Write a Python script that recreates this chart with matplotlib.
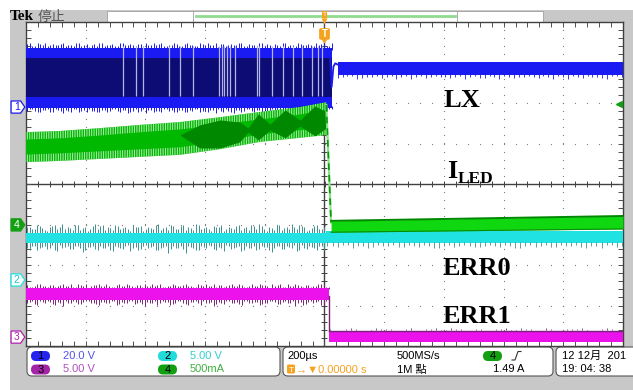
import numpy as np
import matplotlib.pyplot as plt
from matplotlib.patches import FancyBboxPatch, Polygon, Rectangle

plt.rcParams['font.family'] = ['Liberation Sans', 'Noto Sans CJK TC', 'DejaVu Sans']
plt.rcParams['hatch.linewidth'] = 0.7
plt.rcParams['hatch.color'] = '#b2ecb2'

# everything on the screen is in graticule divisions: x -5..5, y -4..4

# channel 1 - LX
lx_pre = [1.88, 2.15, 3.11, 3.36]      # outer low, navy low, navy high, outer high
lx_post = [2.69, 3.01]
lx_stop = 0.12
lx_gaps = [-3.375, -3.157, -3.04, -2.605, -2.42, -2.203, -1.767, -1.717, -1.683,
           -1.633, -1.583, -1.499, -1.131, -1.097, -0.879, -0.695, -0.528,
           -0.377, -0.209, -0.109, -0.04]
lx_spk_hi = [3.45, 3.41, 3.48, 3.43, 3.40, 3.46, 3.42, 3.49, 3.44, 3.40,
             3.47, 3.42, 3.39, 3.45, 3.48, 3.41, 3.44, 3.40, 3.47, 3.43,
             3.46, 3.41, 3.45, 3.49, 3.42, 3.44, 3.47, 3.40, 3.43, 3.46,
             3.41, 3.48, 3.44, 3.40, 3.45, 3.47, 3.42, 3.39, 3.46, 3.44,
             3.43, 3.47, 3.40, 3.45, 3.42, 3.48, 3.41, 3.44, 3.46, 3.40,
             3.49, 3.43, 3.41, 3.46, 3.44, 3.42, 3.47, 3.45, 3.40, 3.48]
lx_spk_lo = [1.80, 1.84, 1.77, 1.82, 1.85, 1.79, 1.83, 1.76, 1.81, 1.84,
             1.78, 1.82, 1.86, 1.80, 1.77, 1.83, 1.81, 1.85, 1.78, 1.82,
             1.79, 1.84, 1.80, 1.76, 1.83, 1.81, 1.78, 1.85, 1.82, 1.79,
             1.83, 1.77, 1.81, 1.84, 1.80, 1.78, 1.82, 1.85, 1.79, 1.81,
             1.76, 1.83, 1.80, 1.84, 1.78, 1.82, 1.79, 1.81, 1.77, 1.80,
             1.84, 1.78, 1.82, 1.80, 1.85, 1.79, 1.83, 1.77, 1.81, 1.84]
lx_post_spk = [2.62, 2.66, 2.60, 2.65, 2.67, 2.63, 2.59, 2.66, 2.64, 2.61,
               2.67, 2.63, 2.65, 2.60, 2.66, 2.62, 2.64, 2.67, 2.61, 2.65,
               2.63, 2.66, 2.60, 2.64, 2.67, 2.62, 2.65, 2.61, 2.66, 2.63]
lx_dip_x = [0.09, 0.12, 0.15, 0.18, 0.22]
lx_dip_y = [3.30, 2.40, 2.90, 2.98, 2.95]

# channel 4 - I_LED
iled_x = [-5.0, -4.43, -3.76, -3.09, -2.42, -1.75, -1.08, -0.41, 0.03]
iled_hi = [1.28, 1.31, 1.38, 1.46, 1.53, 1.65, 1.78, 1.90, 2.02]
iled_lo = [0.54, 0.57, 0.62, 0.67, 0.72, 0.86, 1.04, 1.14, 1.21]
beat_x = [-2.42, -2.09, -1.75, -1.42, -1.28, -1.11, -0.91, -0.66, -0.41, -0.16, 0.03]
beat_hi = [1.21, 1.46, 1.58, 1.53, 1.38, 1.73, 1.48, 1.83, 1.58, 1.93, 1.78]
beat_lo = [1.21, 0.89, 0.89, 1.04, 1.28, 1.09, 1.33, 1.14, 1.43, 1.19, 1.38]
iled_drop_x = [0.03, 0.11]
iled_drop_y = [1.95, -0.95]
iled_post_x = [0.11, 5.0]
iled_post_hi = [-0.91, -0.79]
iled_post_lo = [-1.19, -1.11]

# channel 2 - ERR0
err0_pre = [-1.46, -1.21]
err0_post = [-1.46, -1.16]
err0_spk_hi = [-1.05, -1.12, -1.01, -1.09, -1.15, -1.03, -1.10, -0.99, -1.07, -1.13,
               -1.02, -1.08, -1.16, -1.04, -1.11, -1.00, -1.06, -1.14, -1.03, -1.09,
               -1.12, -1.01, -1.07, -1.15, -1.05, -1.10, -0.98, -1.08, -1.13, -1.04,
               -1.11, -1.02, -1.06, -1.14, -1.00, -1.09, -1.12, -1.03, -1.07, -1.15,
               -1.05, -1.10, -1.01, -1.08, -1.13, -1.04, -0.99, -1.11, -1.06, -1.14,
               -1.02, -1.09, -1.12, -1.05, -1.00, -1.07, -1.13, -1.03, -1.10, -1.06]
err0_spk_lo = [-1.58, -1.52, -1.63, -1.55, -1.60, -1.51, -1.66, -1.57, -1.53, -1.61,
               -1.54, -1.68, -1.56, -1.52, -1.62, -1.59, -1.53, -1.65, -1.55, -1.60,
               -1.51, -1.57, -1.64, -1.54, -1.59, -1.52, -1.62, -1.56, -1.70, -1.53,
               -1.58, -1.61, -1.52, -1.57, -1.63, -1.55, -1.51, -1.60, -1.56, -1.66,
               -1.53, -1.59, -1.54, -1.62, -1.57, -1.52, -1.61, -1.55, -1.64, -1.58,
               -1.53, -1.60, -1.56, -1.51, -1.63, -1.57, -1.54, -1.59, -1.52, -1.62]
err0_post_spk = [-1.52, -1.55, -1.50, -1.54, -1.57, -1.51, -1.53, -1.56, -1.50, -1.55,
                 -1.52, -1.58, -1.51, -1.54, -1.53, -1.56, -1.50, -1.55, -1.52, -1.57,
                 -1.51, -1.54, -1.56, -1.50, -1.53, -1.55, -1.52, -1.57, -1.51, -1.54]

# channel 3 - ERR1
err1_pre = [-2.86, -2.57]
err1_post = [-3.90, -3.63]
err1_stop = 0.07
err1_spk_hi = [-2.50, -2.54, -2.47, -2.52, -2.55, -2.49, -2.53, -2.46, -2.51, -2.54,
               -2.48, -2.52, -2.56, -2.50, -2.47, -2.53, -2.51, -2.55, -2.48, -2.52,
               -2.49, -2.54, -2.50, -2.46, -2.53, -2.51, -2.48, -2.55, -2.52, -2.49,
               -2.53, -2.47, -2.51, -2.54, -2.50, -2.48, -2.52, -2.55, -2.49, -2.51,
               -2.46, -2.53, -2.50, -2.54, -2.48, -2.52, -2.49, -2.51, -2.47, -2.50,
               -2.54, -2.48, -2.52, -2.50, -2.55, -2.49, -2.53, -2.47, -2.51, -2.54]
err1_spk_lo = [-2.94, -2.90, -2.98, -2.92, -2.89, -2.96, -2.91, -3.02, -2.93, -2.90,
               -2.97, -2.92, -2.88, -2.95, -2.99, -2.91, -2.94, -2.89, -2.96, -2.93,
               -2.90, -2.97, -2.92, -3.00, -2.94, -2.89, -2.95, -2.91, -2.98, -2.93,
               -2.90, -2.96, -2.92, -2.89, -2.99, -2.94, -2.91, -2.97, -2.93, -2.90,
               -2.95, -2.92, -2.98, -2.89, -2.94, -2.91, -2.96, -2.93, -2.90, -2.97,
               -2.92, -2.95, -2.89, -2.93, -2.99, -2.91, -2.94, -2.90, -2.96, -2.92]
err1_post_spk = [-3.58, -3.61, -3.56, -3.60, -3.62, -3.57, -3.59, -3.61, -3.55, -3.60,
                 -3.58, -3.62, -3.56, -3.59, -3.61, -3.57, -3.60, -3.58, -3.62, -3.56,
                 -3.59, -3.61, -3.57, -3.60, -3.58, -3.55, -3.61, -3.59, -3.57, -3.60]

# channel ground markers and trigger
ch_offsets = {'1': 1.90, '4': -1.01, '2': -2.37, '3': -3.78}
trig_level = 1.49 / 0.5   # A per division on ch4

# readouts
ch_scales = ['20.0 V', '5.00 V', '5.00 V', '500mA']
timebase = '200µs'
trig_delay = '→▼0.00000 s'
sample_rate = ['500MS/s', '1M 點']
trig_readout = '1.49 A'
clock = ['12 12月  201', '19: 04: 38']
labels = ['LX', 'I', 'LED', 'ERR0', 'ERR1']

BLUE, NAVY, LAV = '#1a1af2', '#0c0c74', '#b4b4ec'
GREEN, DGREEN = '#00b800', '#008800'
CYAN, TEAL = '#20e2e2', '#3f8f8f'
MAG, PURPLE = '#ec12ec', '#7a237a'
ORANGE = '#f5a21f'
GREY = '#c8c8c8'

W, H = 633, 390
fig = plt.figure(figsize=(W / 100, H / 100), dpi=100)

# frame around the screen, in pixels
chrome = fig.add_axes([0, 0, 1, 1], zorder=0)
chrome.set_xlim(0, W)
chrome.set_ylim(H, 0)
chrome.axis('off')
chrome.add_patch(Rectangle((10, 10), W - 10, H - 10, color=GREY, lw=0))
chrome.add_patch(Rectangle((107, 10.5), 436, 11, facecolor='white', edgecolor='#a0a0a0', lw=0.6))
chrome.plot([193, 193], [10.5, 21.5], color='#a0a0a0', lw=0.6)
chrome.plot([457, 457], [10.5, 21.5], color='#a0a0a0', lw=0.6)
chrome.plot([196, 455], [15.5, 15.5], color='#90da90', lw=2)
chrome.text(10, 16.5, 'Tek', fontsize=11, fontweight='bold', family='Liberation Serif',
            va='center', ha='left')
chrome.text(38, 16.5, '停止', fontsize=10, color='#555555', va='center', ha='left',
            family=['Noto Sans CJK TC'])


def box(x, y, w, h):
    chrome.add_patch(FancyBboxPatch((x, y), w, h, boxstyle='round,pad=0,rounding_size=5',
                                    facecolor='white', edgecolor='#555555', lw=0.8))


def pill(x, y, color, num):
    chrome.add_patch(FancyBboxPatch((x, y), 19, 10, boxstyle='round,pad=0,rounding_size=5',
                                    facecolor=color, edgecolor='none'))
    chrome.text(x + 9.5, y + 5.3, num, fontsize=8, ha='center', va='center', color='black')


box(27, 347, 253, 29)
box(283, 347, 270, 29)
box(556, 347, 90, 29)

row1, row2 = 356, 369.5
pill(31, 351, '#2424ee', '1')
pill(31, 364.5, '#a424a8', '3')
pill(158, 351, '#22dcdc', '2')
pill(158, 364.5, '#12a012', '4')
txt = dict(fontsize=8, va='center', ha='left')
chrome.text(63, row1, ch_scales[0], color='#5050f0', **txt)
chrome.text(63, row2, ch_scales[2], color='#b050c0', **txt)
chrome.text(190, row1, ch_scales[1], color='#30d0d0', **txt)
chrome.text(190, row2, ch_scales[3], color='#40b040', **txt)

chrome.text(287, row1, timebase, color='black', **txt)
chrome.add_patch(FancyBboxPatch((287, 364.5), 8, 9, boxstyle='round,pad=0,rounding_size=1.5',
                                facecolor=ORANGE, edgecolor='none'))
chrome.text(291, row2 + 0.5, 'T', fontsize=6, color='white', ha='center', va='center')
chrome.text(296, row2, trig_delay, color=ORANGE, **txt)
chrome.text(397, row1, sample_rate[0], color='black', **txt)
chrome.text(397, row2, sample_rate[1], color='black', **txt)
pill(483, 351, '#12a012', '4')
chrome.plot([512, 515, 518, 521], [360, 360, 351.5, 351.5], color='#333333', lw=0.8)
chrome.text(493, row2, trig_readout, color='black', **txt)
chrome.text(562, row1, clock[0], color='black', **txt)
chrome.text(562, row2, clock[1], color='black', **txt)

# the graticule
ax = fig.add_axes([26 / W, 1 - 346 / H, 597 / W, 324 / H], zorder=2)
ax.set_xlim(-5, 5)
ax.set_ylim(-4, 4)
ax.set_facecolor('white')
for s in ax.spines.values():
    s.set_color('#404040')
    s.set_linewidth(1)
ax.set_xticks(np.arange(-5, 5.01, 1))
ax.set_yticks(np.arange(-4, 4.01, 1))
ax.set_xticks(np.arange(-5, 5.01, 0.2), minor=True)
ax.set_yticks(np.arange(-4, 4.01, 0.2), minor=True)
ax.tick_params(which='both', direction='in', length=3.5, width=0.7, color='#505050',
               top=True, right=True, labelbottom=False, labelleft=False)

fine_x = np.arange(-5, 5.01, 0.2)
fine_y = np.arange(-4, 4.01, 0.2)
for gx in range(-4, 5):
    if gx:
        ax.scatter(np.full(fine_y.size, gx), fine_y, s=0.8, color='#7a7a7a', lw=0, zorder=1)
for gy in range(-3, 4):
    if gy:
        ax.scatter(fine_x, np.full(fine_x.size, gy), s=0.8, color='#7a7a7a', lw=0, zorder=1)
ax.axhline(0, color='#404040', lw=1, zorder=1)
ax.axvline(0, color='#404040', lw=1, zorder=1)
ax.plot(fine_x, np.zeros(fine_x.size), ls='none', marker='|', ms=5, mew=0.7,
        color='#404040', zorder=1)
ax.plot(np.zeros(fine_y.size), fine_y, ls='none', marker='_', ms=5, mew=0.7,
        color='#404040', zorder=1)


def spikes(x0, x1, base, tips, color, lw=0.7, z=3):
    n = len(tips)
    xs = np.linspace(x0, x1, n)
    step = (x1 - x0) / (n - 1)
    ax.vlines(xs, base, tips, colors=color, lw=lw, zorder=z)
    ax.vlines(xs[:-1] + step / 2, base, tips[::-1][:-1], colors=color, lw=lw, zorder=z)


# LX
spikes(-4.98, lx_stop, lx_pre[3] - 0.05, lx_spk_hi, BLUE)
spikes(-4.98, lx_stop, lx_pre[0] + 0.05, lx_spk_lo, BLUE)
ax.fill_between([-5, lx_stop], lx_pre[0], lx_pre[3], color=BLUE, lw=0, zorder=3)
ax.fill_between([-5, lx_stop], lx_pre[1], lx_pre[2], color=NAVY, lw=0, zorder=3)
ax.vlines(lx_gaps, lx_pre[1] + 0.02, lx_pre[3] + 0.05, colors=LAV, lw=0.9, zorder=3)
ax.fill_between([lx_dip_x[-1], 5], lx_post[0], lx_post[1], color=BLUE, lw=0, zorder=3)
spikes(lx_dip_x[-1], 4.98, lx_post[0] + 0.03, lx_post_spk, BLUE, lw=0.6)
ax.plot(lx_dip_x, lx_dip_y, color=BLUE, lw=1.3, zorder=3)

# I_LED: hatched fringe, solid core, darker beat lobes
ax.fill_between(iled_x, iled_lo, iled_hi, facecolor=GREEN, hatch='|||||||', lw=0, zorder=4)
ax.fill_between(iled_x, np.array(iled_lo) + 0.2, np.array(iled_hi) - 0.17,
                color=GREEN, lw=0, zorder=4)
ax.fill_between(beat_x, beat_lo, beat_hi, color=DGREEN, lw=0, zorder=4)
ax.plot(iled_drop_x, iled_drop_y, color='#8ede8e', lw=1.6, zorder=4)
ax.plot(iled_drop_x, iled_drop_y, color='#00a000', lw=1.2, dashes=(4, 3), zorder=4)
ax.fill_between(iled_post_x, iled_post_lo, iled_post_hi, color='#10d810', lw=0, zorder=4)
ax.plot(iled_post_x, iled_post_hi, color=DGREEN, lw=1.4, zorder=4)
ax.plot(iled_post_x, iled_post_lo, color='#0a8a0a', lw=0.8, zorder=4)

# ERR0
spikes(-4.98, 0.0, err0_pre[1] - 0.03, err0_spk_hi, TEAL)
spikes(-4.98, 0.0, err0_pre[0] + 0.03, err0_spk_lo, TEAL)
ax.fill_between([-5, 0.02], err0_pre[0], err0_pre[1], color=CYAN, lw=0, zorder=3)
ax.fill_between([0.02, 5], err0_post[0], err0_post[1], color=CYAN, lw=0, zorder=3)
spikes(0.05, 4.98, err0_post[0] + 0.03, err0_post_spk, TEAL, lw=0.6)

# ERR1
spikes(-4.98, err1_stop, err1_pre[1] - 0.03, err1_spk_hi, PURPLE)
spikes(-4.98, err1_stop, err1_pre[0] + 0.03, err1_spk_lo, PURPLE)
ax.fill_between([-5, err1_stop], err1_pre[0], err1_pre[1], color=MAG, lw=0, zorder=3)
ax.plot([err1_stop, err1_stop], [err1_pre[0] + 0.1, err1_post[1]], color=PURPLE, lw=1, zorder=3)
ax.fill_between([err1_stop, 5], err1_post[0], err1_post[1], color=MAG, lw=0, zorder=3)
ax.plot([err1_stop, 5], [err1_post[1], err1_post[1]], color=PURPLE, lw=1, zorder=3)
spikes(err1_stop + 0.03, 4.98, err1_post[1] + 0.03, err1_post_spk, PURPLE, lw=0.6)

# trace names
serif = dict(family='Liberation Serif', fontweight='bold', va='baseline', ha='left',
             color='black', zorder=6)
ax.text(1.985, 1.90, labels[0], fontsize=19, **serif)
ax.text(2.05, 0.15, labels[1], fontsize=19, **serif)
ax.text(2.23, 0.02, labels[2], fontsize=12.5, **serif)
ax.text(1.97, -2.25, labels[3], fontsize=19, **serif)
ax.text(1.97, -3.43, labels[4], fontsize=19, **serif)

# channel ground tags on the left edge
tag_style = {'1': ('white', BLUE, BLUE), '4': ('#12a012', '#12a012', 'white'),
             '2': ('white', CYAN, '#18c8c8'), '3': ('white', '#b020b0', '#b020b0')}
for ch, y0 in ch_offsets.items():
    face, edge, tc = tag_style[ch]
    tag = Polygon([(-5.25, y0 - 0.15), (-5.09, y0 - 0.15), (-5.02, y0),
                   (-5.09, y0 + 0.15), (-5.25, y0 + 0.15)], closed=True,
                  facecolor=face, edgecolor=edge, lw=0.9, clip_on=False, zorder=6)
    ax.add_patch(tag)
    ax.text(-5.155, y0 - 0.01, ch, fontsize=7.5, color=tc, ha='center', va='center',
            clip_on=False, zorder=7)

# trigger level and trigger point
ax.plot([4.93], [ch_offsets['4'] + trig_level], marker='<', ms=5, color='#12a012',
        ls='none', zorder=6)
ax.add_patch(Rectangle((-0.05, 4.09), 0.1, 0.17, color=ORANGE, lw=0, clip_on=False, zorder=7))
ax.add_patch(Polygon([(-0.05, 4.09), (0.05, 4.09), (0, 3.94)], closed=True, color=ORANGE,
                     lw=0, clip_on=False, zorder=7))
ax.text(0, 4.175, 'T', fontsize=4.5, color='white', ha='center', va='center',
        clip_on=False, zorder=8)
ax.add_patch(FancyBboxPatch((-0.09, 3.56), 0.18, 0.29,
                            boxstyle='round,pad=0,rounding_size=0.04', color=ORANGE,
                            lw=0, zorder=7))
ax.add_patch(Polygon([(-0.05, 3.57), (0.05, 3.57), (0, 3.47)], closed=True, color=ORANGE,
                     lw=0, zorder=7))
ax.text(0, 3.70, 'T', fontsize=7, fontweight='bold', color='white', ha='center',
        va='center', zorder=8)

fig.savefig('out.png', dpi=100, facecolor='white')
